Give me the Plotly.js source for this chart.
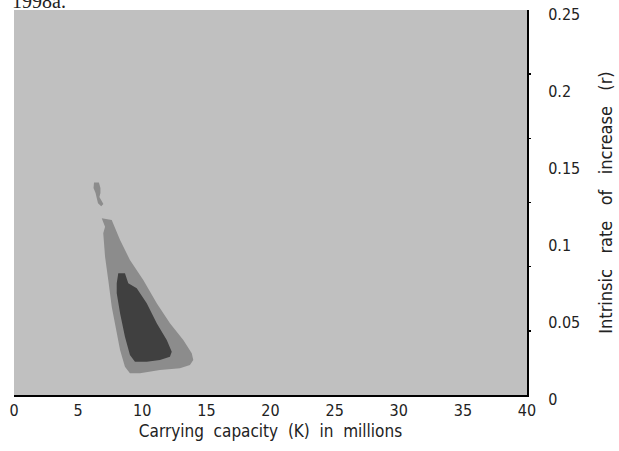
<!DOCTYPE html>
<html>
<head>
<meta charset="utf-8">
<script src="https://cdn.plot.ly/plotly-3.0.1.min.js"></script>
<style>html,body{margin:0;padding:0;background:#fff;}#chart{width:619px;height:451px;}</style>
</head>
<body>
<div id="chart"></div>
<script>
// Carrying capacity K (millions) and intrinsic rate r, region boundaries
const outerK = [6.84, 7.62, 8.27, 9.04, 10.08, 11.13, 12.16, 13.20, 13.86, 13.98, 13.72, 12.94, 11.38, 9.82, 9.04, 8.65, 8.27, 7.95, 7.62, 7.35, 7.10, 6.96, 7.10, 6.84];
const outerR = [0.1147, 0.1136, 0.1006, 0.0877, 0.0747, 0.0595, 0.0466, 0.0357, 0.0271, 0.0227, 0.0195, 0.0173, 0.0162, 0.0141, 0.0141, 0.0184, 0.0292, 0.0422, 0.0573, 0.0747, 0.0898, 0.1050, 0.1093, 0.1147];

const blobK = [6.24, 6.62, 6.74, 6.74, 6.66, 6.82, 6.97, 6.80, 6.55, 6.45, 6.36, 6.20, 6.20, 6.24];
const blobR = [0.1380, 0.1380, 0.1344, 0.1312, 0.1286, 0.1260, 0.1240, 0.1225, 0.1245, 0.1279, 0.1312, 0.1344, 0.1370, 0.1380];

const innerK = [8.13, 8.65, 8.91, 9.57, 10.35, 11.13, 11.91, 12.30, 12.16, 11.38, 10.35, 9.43, 9.04, 8.65, 8.27, 8.01, 8.01, 8.13];
const innerR = [0.0790, 0.0790, 0.0725, 0.0693, 0.0595, 0.0466, 0.0357, 0.0281, 0.0249, 0.0227, 0.0216, 0.0216, 0.0260, 0.0379, 0.0531, 0.0660, 0.0725, 0.0790];

const xTicks = [0, 5, 10, 15, 20, 25, 30, 35, 40];
const xTickText = ["0", "5", "10", "15", "20", "25", "30", "35", "40"];
const yTicks = [0, 0.05, 0.1, 0.15, 0.2, 0.25];
const yTickText = ["0", "0.05", "0.1", "0.15", "0.2", "0.25"];
const yMarkTicks = [0.25/6, 0.5/6, 0.75/6, 1/6, 1.25/6];

const MID = '#8c8c8c', DARK = '#404040', BG = '#c0c0c0';
const FONT = 'Liberation Sans Narrow, DejaVu Sans Condensed, sans-serif';
const NB = '\u00a0';

const traces = [
  {x: outerK, y: outerR, type: 'scatter', mode: 'lines', fill: 'toself', fillcolor: MID, line: {width: 0, color: MID}, hoverinfo: 'skip', showlegend: false},
  {x: blobK, y: blobR, type: 'scatter', mode: 'lines', fill: 'toself', fillcolor: MID, line: {width: 0, color: MID}, hoverinfo: 'skip', showlegend: false},
  {x: innerK, y: innerR, type: 'scatter', mode: 'lines', fill: 'toself', fillcolor: DARK, line: {width: 0, color: DARK}, hoverinfo: 'skip', showlegend: false},
  {x: [0], y: [0], yaxis: 'y2', type: 'scatter', mode: 'markers', marker: {opacity: 0}, hoverinfo: 'skip', showlegend: false}
];

const layout = {
  width: 619, height: 451,
  margin: {l: 14, r: 92, t: 10, b: 56, pad: 0},
  paper_bgcolor: '#ffffff',
  plot_bgcolor: BG,
  font: {family: FONT, size: 16, color: '#222'},
  xaxis: {
    range: [0, 40], tickvals: xTicks, ticktext: xTickText,
    showgrid: false, zeroline: false, ticks: '',
    showline: true, linecolor: '#000', linewidth: 1.5, mirror: false,
    tickfont: {size: 16, family: FONT, color: '#222'},
    title: {text: 'Carrying' + NB + ' capacity' + NB + ' (K)' + NB + ' in' + NB + ' millions', font: {size: 17, family: FONT, color: '#222'}, standoff: 6}
  },
  yaxis: {
    range: [0, 0.25], side: 'right', tickvals: yTicks, ticktext: yTickText,
    showgrid: false, zeroline: false, ticks: '',
    showline: true, linecolor: '#000', linewidth: 2,
    ticklabelstandoff: 16, ticklabelshift: 4,
    tickfont: {size: 16, family: FONT, color: '#222'},
    title: {text: 'Intrinsic' + NB + NB + ' rate' + NB + NB + ' of' + NB + NB + ' increase' + NB + NB + ' (r)', font: {size: 18, family: FONT, color: '#222'}, standoff: 20}
  },
  yaxis2: {
    range: [0, 0.25], side: 'right', overlaying: 'y', tickvals: yMarkTicks,
    showticklabels: false, ticks: 'outside', ticklen: 3, tickwidth: 1.5, tickcolor: '#000',
    showgrid: false, zeroline: false, showline: false
  },
  annotations: [{
    text: '1998a.', xref: 'paper', yref: 'paper', x: -0.008, y: 1, xanchor: 'left', yanchor: 'bottom',
    yshift: -4, showarrow: false, font: {family: 'Liberation Serif, serif', size: 20, color: '#222'}
  }]
};

Plotly.newPlot('chart', traces, layout, {staticPlot: true, displayModeBar: false});
</script>
</body>
</html>
